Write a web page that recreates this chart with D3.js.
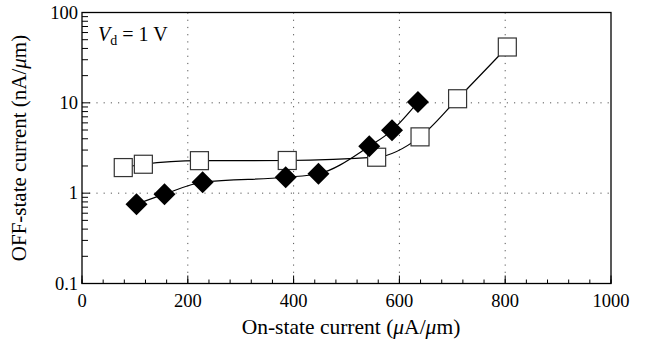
<!DOCTYPE html>
<html><head><meta charset="utf-8">
<script src="https://cdn.jsdelivr.net/npm/d3@7"></script>
<style>body{margin:0;background:#fff;}</style>
</head><body>
<svg id="c" width="646" height="345" font-family="'Liberation Serif', 'DejaVu Serif', serif"></svg>
<script>
const squareX = [78, 116, 222, 388, 557, 639, 710, 804];
const squareY = [1.92, 2.09, 2.29, 2.3, 2.5, 4.2, 11.1, 41.5];
const diamondX = [103, 156, 228, 385, 447, 543, 586, 635];
const diamondY = [0.755, 0.975, 1.32, 1.5, 1.64, 3.3, 4.96, 10.2];
const xTicks = [0, 200, 400, 600, 800, 1000];
const yTicks = [0.1, 1, 10, 100];
const xGrid = [200, 400, 600, 800];
const yGrid = [1, 10];

const svg = d3.select("#c");
const L = 82, R = 611, T = 12.5, B = 283.5;
const x = d3.scaleLinear().domain([0, 1000]).range([L, R]);
const y = d3.scaleLog().domain([0.1, 100]).range([B, T]);

// grid
const g = svg.append("g");
g.selectAll(".gx").data(xGrid).join("line")
  .attr("x1", d => x(d)).attr("x2", d => x(d)).attr("y1", T).attr("y2", B)
  .attr("stroke", "#555").attr("stroke-width", 1).attr("stroke-dasharray", "1.2,6");
g.selectAll(".gy").data(yGrid).join("line")
  .attr("x1", L).attr("x2", R).attr("y1", d => y(d)).attr("y2", d => y(d))
  .attr("stroke", "#555").attr("stroke-width", 1).attr("stroke-dasharray", "1.2,6");

// ticks
const xMinor = d3.range(0, 1001, 40);
svg.append("g").selectAll("line").data(xMinor).join("line")
  .attr("x1", d => x(d)).attr("x2", d => x(d)).attr("y1", B).attr("y2", B - 4)
  .attr("stroke", "#000").attr("stroke-width", 1);
svg.append("g").selectAll("line").data(xTicks).join("line")
  .attr("x1", d => x(d)).attr("x2", d => x(d)).attr("y1", B).attr("y2", B - 8)
  .attr("stroke", "#000").attr("stroke-width", 1);
const yMinor = [];
[0.1, 1, 10].forEach(b => { for (let k = 2; k <= 9; k++) yMinor.push(b * k); });
svg.append("g").selectAll("line").data(yMinor).join("line")
  .attr("x1", L).attr("x2", L + 6).attr("y1", d => y(d)).attr("y2", d => y(d))
  .attr("stroke", "#000").attr("stroke-width", 1);
svg.append("g").selectAll("line").data(yTicks).join("line")
  .attr("x1", L).attr("x2", L + 8).attr("y1", d => y(d)).attr("y2", d => y(d))
  .attr("stroke", "#000").attr("stroke-width", 1);

// frame
svg.append("rect").attr("x", L).attr("y", T).attr("width", R - L).attr("height", B - T)
  .attr("fill", "none").attr("stroke", "#000").attr("stroke-width", 1.3);

// tick labels
svg.append("g").selectAll("text").data(xTicks).join("text")
  .attr("x", d => x(d)).attr("y", B + 23).attr("text-anchor", "middle").attr("font-size", 18.5)
  .text(d => d);
svg.append("g").selectAll("text").data(yTicks).join("text")
  .attr("x", L - 4).attr("y", d => y(d) + 6).attr("text-anchor", "end").attr("font-size", 18.5)
  .text(d => d);

// axis titles
const xt = svg.append("text").attr("x", 351).attr("y", 334).attr("text-anchor", "middle").attr("font-size", 21.5);
xt.append("tspan").text("On-state current (");
xt.append("tspan").attr("font-style", "italic").text("μ");
xt.append("tspan").text("A/");
xt.append("tspan").attr("font-style", "italic").text("μ");
xt.append("tspan").text("m)");
const yt = svg.append("text").attr("transform", `translate(26,${(T + B) / 2}) rotate(-90)`).attr("text-anchor", "middle").attr("font-size", 21);
yt.append("tspan").text("OFF-state current (nA/");
yt.append("tspan").attr("font-style", "italic").text("μ");
yt.append("tspan").text("m)");

// annotation
const an = svg.append("text").attr("x", 98).attr("y", 41).attr("font-size", 20);
an.append("tspan").attr("font-style", "italic").text("V");
an.append("tspan").attr("font-size", 14).attr("dy", 4).text("d");
an.append("tspan").attr("dy", -4).text(" = 1 V");

// lines
const sq = squareX.map((v, i) => [v, squareY[i]]);
const di = diamondX.map((v, i) => [v, diamondY[i]]);
const line = d3.line().x(d => x(d[0])).y(d => y(d[1])).curve(d3.curveMonotoneX);
svg.append("path").attr("d", line(sq)).attr("fill", "none").attr("stroke", "#000").attr("stroke-width", 1.2);
svg.append("path").attr("d", line(di)).attr("fill", "none").attr("stroke", "#000").attr("stroke-width", 1.2);

// markers
const s = 18;
svg.append("g").selectAll("rect").data(sq).join("rect")
  .attr("x", d => x(d[0]) - s / 2).attr("y", d => y(d[1]) - s / 2).attr("width", s).attr("height", s)
  .attr("fill", "#fff").attr("stroke", "#333").attr("stroke-width", 1.2);
const h = 11;
svg.append("g").selectAll("path").data(di).join("path")
  .attr("d", d => { const cx = x(d[0]), cy = y(d[1]); return `M${cx},${cy - h}L${cx + h},${cy}L${cx},${cy + h}L${cx - h},${cy}Z`; })
  .attr("fill", "#000");
</script>
</body></html>
